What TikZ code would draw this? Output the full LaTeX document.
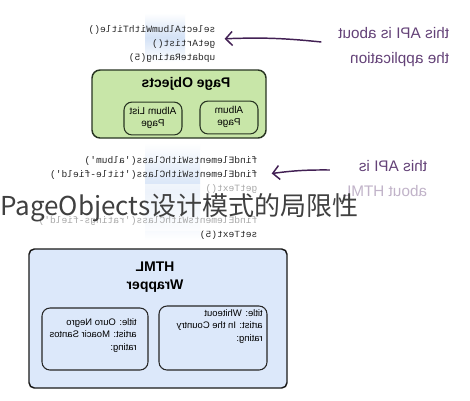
\documentclass[tikz,border=0pt]{standalone}
\usepackage{graphicx}
\usepackage{fontspec}
\setmainfont{Liberation Sans}
\setmonofont{Liberation Mono}
\newfontfamily\cjk{Noto Sans CJK SC}
\usetikzlibrary{arrows.meta,shapes,calc}
\definecolor{pagegreen}{RGB}{200,230,168}
\definecolor{pageedge}{RGB}{40,52,34}
\definecolor{wrapblue}{RGB}{220,232,250}
\definecolor{bandblue}{RGB}{212,226,246}
\definecolor{notepurple}{RGB}{100,66,120}
\definecolor{arrowpurple}{RGB}{66,32,84}
\definecolor{codegrey}{RGB}{40,40,40}
% the sketch is printed as a mirror image
\newcommand{\flipl}[1]{\reflectbox{\begin{tabular}{@{}l@{}}#1\end{tabular}}}
\newcommand{\flipc}[1]{\reflectbox{\begin{tabular}{@{}c@{}}#1\end{tabular}}}

\begin{document}
\begin{tikzpicture}[x=0.75pt, y=-0.75pt]
	\tikzstyle{code} = [font=\ttfamily\fontsize{7.2}{10.5}\selectfont, text=codegrey, inner sep=0pt]
	\tikzstyle{note} = [font=\fontsize{11.5}{18.75}\selectfont, text=notepurple, inner sep=2pt]
	\tikzstyle{pointer} = [draw=arrowpurple, line width=1.1pt, -{Straight Barb[length=5pt, width=10.5pt]}]
	\tikzstyle{group} = [rectangle, draw, line width=1.1pt, rounded corners=6pt]
	\tikzstyle{page} = [rectangle, draw=pageedge, fill=pagegreen, line width=0.8pt, rounded corners=6pt, font=\fontsize{7.5}{9}\selectfont]
	\tikzstyle{record} = [rectangle, draw=black!85, fill=wrapblue, line width=0.8pt, rounded corners=6pt]
	\tikzstyle{recordtext} = [font=\fontsize{7.1}{9.4}\selectfont, inner sep=0pt, anchor=north east]
	\tikzstyle{heading} = [font=\bfseries\fontsize{10.5}{13.5}\selectfont]
	\fill[white] (0,0) rectangle (470,400);
	\useasboundingbox (0,0) rectangle (470,400);
	% faint bands behind the calls
	\shade[top color=white, bottom color=white, middle color=bandblue] (145,13) rectangle (185,62);
	\shade[top color=white, bottom color=white, middle color=bandblue] (145,143) rectangle (200,240);
	% application level
	\node[code, anchor=north] (api) at (152,22.5) {\flipl{selectAlbumWithTitle()\\getArtist()\\updateRating(5)}};
	\node[note, anchor=east] (appnote) at (452,46) {\flipl{this API is about\\the application}};
	\node[group, draw=pageedge, fill=pagegreen, minimum width=130.5pt, minimum height=51pt] (pageobjects) at (179,104) {};
	\node[heading] (pagetitle) at (186,84) {\flipc{Page Objects}};
	\node[page, minimum width=43.5pt, minimum height=23.25pt] (listpage) at (153,118.5) {\flipc{Album List\\Page}};
	\node[page, minimum width=43.5pt, minimum height=21.75pt] (albumpage) at (229,117.5) {\flipc{Album\\Page}};
	% html level
	\node[code, anchor=north] (dom) at (148,153.5) {\flipl{findElementsWithClass('album')\\findElementsWithClass('title-field')\\getText()\\[13.5pt]findElementsWithClass('ratings-field')\\setText(5)}};
	\node[note, anchor=east] (htmlnote) at (430,179) {\flipl{this API is\\about HTML}};
	\node[group, draw=black!90, fill=wrapblue, rounded corners=4pt, minimum width=193.5pt, minimum height=104.25pt] (wrapper) at (158,318.5) {};
	\node[heading] (wraptitle) at (155,276.5) {\flipc{HTML\\Wrapper}};
	\node[record, minimum width=79.5pt, minimum height=46.5pt] (negro) at (95,339) {};
	\node[recordtext] (negrotext) at (137,316) {\flipl{title: Ouro Negro\\artist: Moacir Santos\\rating:}};
	\node[record, minimum width=81pt, minimum height=48pt] (whiteout) at (213,338) {};
	\node[recordtext] (whiteouttext) at (263,307) {\flipl{title: Whiteout\\artist: In the Country\\rating:}};
	% pointers
	\draw[pointer] ($(appnote.west)+(-14,-4)$) to[bend right=4] ($(api.east)+(9,-5)$);
	\draw[pointer] ($(htmlnote.west)+(-10,-9)$) to[bend right=4] ($(dom.north east)+(14,20)$);
	% caption over the sketch
	\node[anchor=base west, font=\cjk\fontsize{19.5}{24}\selectfont, text=black!75, fill=white, fill opacity=0.6, text opacity=1, inner xsep=0pt, inner ysep=7pt, text width=330pt, align=left] (caption) at (0,215) {PageObjects设计模式的局限性};
\end{tikzpicture}
\end{document}
